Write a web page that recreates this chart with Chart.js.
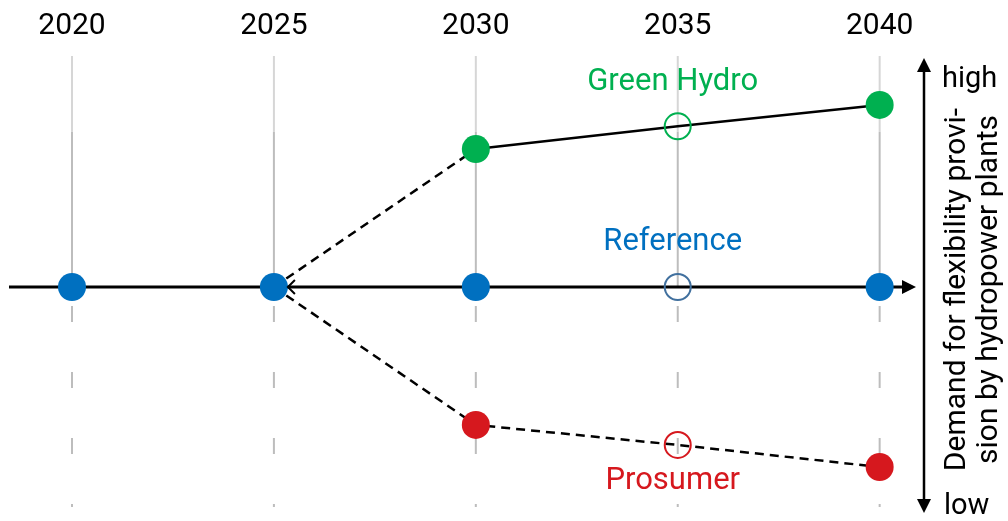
<!DOCTYPE html>
<html>
<head>
<meta charset="utf-8">
<script src="https://cdn.jsdelivr.net/npm/chart.js@4.4.1/dist/chart.umd.min.js"></script>
<style>
  html, body { margin: 0; padding: 0; background: #fff; }
  #wrap { width: 1008px; height: 521px; }
</style>
</head>
<body>
<div id="wrap"><canvas id="chart"></canvas></div>
<script>
// --- data ---
const years = [2020, 2025, 2030, 2035, 2040];
const refValues = [0, 0, 0, 0, 0];
const greenYears = [2025, 2030, 2035, 2040];
const greenValues = [0, 2, 2.33, 2.64];
const redYears = [2025, 2030, 2035, 2040];
const redValues = [0, -2, -2.29, -2.61];
const scenarioNames = ['Green Hydro', 'Reference', 'Prosumer'];
const scenarioLabelY = [2.97, 0.65, -2.81];
const axisTexts = ['Demand for flexibility provi-', 'sion by hydropower plants'];
const axisEnds = ['high', 'low'];

const GREEN = '#00b050', BLUE = '#0070c0', RED = '#d6181e', OPEN_BLUE = '#41709e';
const FONT = 'Roboto, "Noto Sans", sans-serif';

const pts = (xs, ys) => xs.map((x, i) => ({ x, y: ys[i] }));

const decor = {
  id: 'decor',
  beforeDatasetsDraw(chart) {
    const { ctx, chartArea: a, scales: { x, y } } = chart;
    const y0 = y.getPixelForValue(0);
    const yLight = y.getPixelForValue(2.25);
    ctx.save();
    ctx.lineWidth = 2;
    years.forEach(yr => {
      const px = x.getPixelForValue(yr);
      ctx.setLineDash([]);
      ctx.strokeStyle = '#d6d6d6';
      ctx.beginPath(); ctx.moveTo(px, a.top); ctx.lineTo(px, yLight); ctx.stroke();
      ctx.strokeStyle = '#bdbdbd';
      ctx.beginPath(); ctx.moveTo(px, yLight); ctx.lineTo(px, y0); ctx.stroke();
      ctx.setLineDash([16, 50]);
      ctx.beginPath(); ctx.moveTo(px, y0 + 19); ctx.lineTo(px, a.bottom); ctx.stroke();
    });
    ctx.setLineDash([]);
    // horizontal time arrow
    ctx.strokeStyle = '#000'; ctx.fillStyle = '#000'; ctx.lineWidth = 3;
    ctx.beginPath(); ctx.moveTo(a.left, y0); ctx.lineTo(a.right - 12, y0); ctx.stroke();
    ctx.beginPath(); ctx.moveTo(a.right, y0); ctx.lineTo(a.right - 14, y0 - 7); ctx.lineTo(a.right - 14, y0 + 7); ctx.closePath(); ctx.fill();
    // right demand axis
    const ax = a.right + 8;
    ctx.lineWidth = 2.5;
    ctx.beginPath(); ctx.moveTo(ax, a.top + 12); ctx.lineTo(ax, a.bottom - 6); ctx.stroke();
    ctx.beginPath(); ctx.moveTo(ax, a.top + 2); ctx.lineTo(ax - 7, a.top + 16); ctx.lineTo(ax + 7, a.top + 16); ctx.closePath(); ctx.fill();
    ctx.beginPath(); ctx.moveTo(ax, a.bottom + 6); ctx.lineTo(ax - 7, a.bottom - 8); ctx.lineTo(ax + 7, a.bottom - 8); ctx.closePath(); ctx.fill();
    ctx.restore();
  },
  afterDatasetsDraw(chart) {
    const { ctx, chartArea: a, scales: { x, y } } = chart;
    const y0 = y.getPixelForValue(0);
    ctx.save();
    // small open arrow head at the 2025 branching point
    const bx = x.getPixelForValue(2025) + 14;
    ctx.strokeStyle = '#000'; ctx.lineWidth = 2;
    ctx.beginPath(); ctx.moveTo(bx + 7, y0 - 7); ctx.lineTo(bx, y0); ctx.lineTo(bx + 7, y0 + 7); ctx.stroke();
    // scenario names
    ctx.font = '31px ' + FONT;
    ctx.textAlign = 'center'; ctx.textBaseline = 'middle';
    [GREEN, BLUE, RED].forEach((c, i) => {
      ctx.fillStyle = c;
      ctx.fillText(scenarioNames[i], x.getPixelForValue(2035) - 5, y.getPixelForValue(scenarioLabelY[i]));
    });
    // axis end labels
    const ax = a.right + 8;
    ctx.font = '29px ' + FONT;
    ctx.fillStyle = '#000'; ctx.textAlign = 'left'; ctx.textBaseline = 'alphabetic';
    ctx.fillText(axisEnds[0], ax + 18, a.top + 31);
    ctx.fillText(axisEnds[1], ax + 20, a.bottom + 7);
    // rotated axis title
    ctx.font = '30px ' + FONT;
    ctx.translate(ax, (a.top + a.bottom) / 2 + 8);
    ctx.rotate(-Math.PI / 2);
    ctx.textAlign = 'center';
    ctx.fillText(axisTexts[0], 0, 41);
    ctx.fillText(axisTexts[1], 0, 73);
    ctx.restore();
  }
};

new Chart(document.getElementById('chart'), {
  type: 'scatter',
  data: {
    datasets: [
      {
        label: 'Reference',
        data: pts(years, refValues),
        showLine: false,
        order: 0,
        pointRadius: [14, 14, 14, 13, 14],
        pointBackgroundColor: [BLUE, BLUE, BLUE, 'rgba(0,0,0,0)', BLUE],
        pointBorderColor: OPEN_BLUE,
        pointBorderWidth: [0, 0, 0, 2, 0]
      },
      {
        label: 'Green Hydro',
        data: pts(greenYears, greenValues),
        showLine: true,
        order: 1,
        borderColor: '#000',
        borderWidth: 2.5,
        segment: { borderDash: c => c.p0DataIndex === 0 ? [9, 6] : [] },
        pointRadius: [0, 14, 13, 14],
        pointBackgroundColor: [GREEN, GREEN, 'rgba(0,0,0,0)', GREEN],
        pointBorderColor: GREEN,
        pointBorderWidth: [0, 0, 2, 0]
      },
      {
        label: 'Prosumer',
        data: pts(redYears, redValues),
        showLine: true,
        order: 1,
        borderColor: '#000',
        borderWidth: 2.5,
        borderDash: [9, 6],
        pointRadius: [0, 14, 13, 14],
        pointBackgroundColor: [RED, RED, 'rgba(0,0,0,0)', RED],
        pointBorderColor: RED,
        pointBorderWidth: [0, 0, 2, 0]
      }
    ]
  },
  options: {
    responsive: true,
    maintainAspectRatio: false,
    animation: false,
    events: [],
    layout: { autoPadding: false, padding: { left: 9, right: 92, top: 0, bottom: 14 } },
    plugins: { legend: { display: false }, tooltip: { enabled: false } },
    scales: {
      x: {
        type: 'linear',
        position: 'top',
        min: 2018.44,
        max: 2040.9,
        grid: { display: false, drawTicks: false },
        border: { display: false },
        afterBuildTicks: s => { s.ticks = years.map(v => ({ value: v })); },
        afterFit: s => { s.height = 56; s.paddingLeft = 0; s.paddingRight = 0; },
        ticks: { color: '#000', padding: 12, font: { family: FONT, size: 30 }, callback: v => String(v) }
      },
      y: {
        display: false,
        min: -3.19,
        max: 3.35
      }
    }
  },
  plugins: [decor]
});
</script>
</body>
</html>
